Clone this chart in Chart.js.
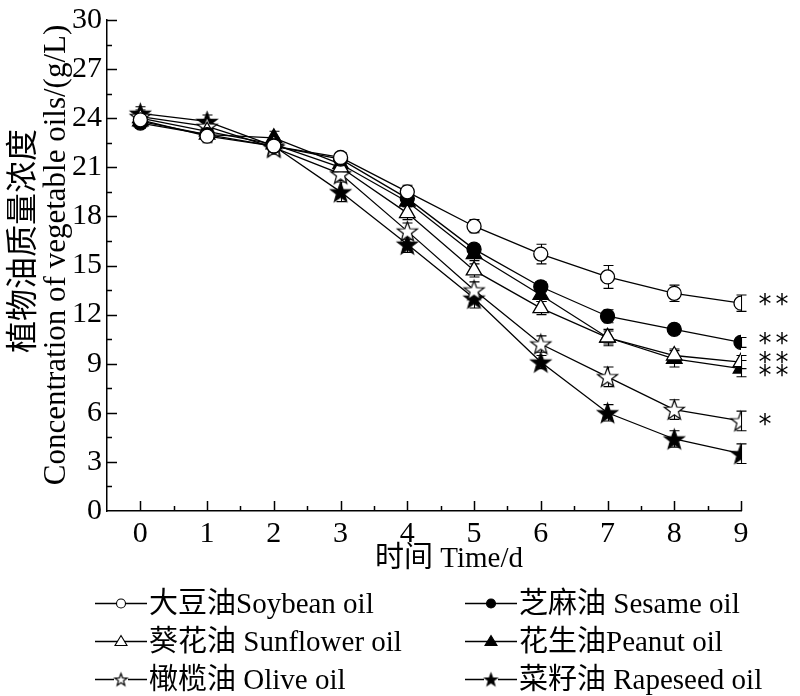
<!DOCTYPE html>
<html>
<head>
<meta charset="utf-8">
<script src="https://cdn.jsdelivr.net/npm/chart.js@4.4.1/dist/chart.umd.min.js"></script>
<style>
  body { margin: 0; background: #fff; }
  #wrap { position: relative; width: 800px; height: 696px; overflow: hidden; }
  #chart { position: absolute; left: 0; top: 0; }
  .txt { position: absolute; font-family: "Liberation Serif", "Noto Sans CJK SC", serif; color: #000; white-space: nowrap; }
  .ytitle { width: 560px; height: 36px; line-height: 36px; text-align: center; transform: rotate(-90deg); }
  .leg { font-size: 29px; height: 34px; line-height: 34px; display: flex; align-items: center; }
  .leg canvas { margin-right: 2px; }
</style>
</head>
<body>
<div id="wrap">
  <canvas id="chart" width="800" height="696"></canvas>
  <div class="txt ytitle" style="left:-258px; top:223px; font-size:32px;">植物油质量浓度</div>
  <div class="txt ytitle" style="left:-225px; top:237px; font-size:31px;">Concentration of vegetable oils/(g/L)</div>
  <div class="txt" id="xtitle" style="left:375px; top:539px; font-size:29px; line-height:36px;">时间 Time/d</div>
  <div id="legend"></div>
</div>
<script>
const $ = id => document.getElementById(id);

// Data
const days = [0, 1, 2, 3, 4, 5, 6, 7, 8, 9];
const soybean   = [23.9, 22.9, 22.3, 21.6, 19.5, 17.4, 15.7, 14.3, 13.3, 12.7];
const sesame    = [23.7, 23.0, 22.3, 21.5, 19.1, 16.0, 13.7, 11.9, 11.1, 10.3];
const sunflower = [24.0, 23.2, 22.4, 21.0, 18.2, 14.7, 12.4, 10.6, 9.5, 9.1];
const peanut    = [23.8, 23.0, 22.8, 21.2, 18.9, 15.7, 13.2, 10.6, 9.3, 8.7];
const olive     = [24.1, 23.5, 22.2, 20.6, 17.1, 13.5, 10.2, 8.2, 6.2, 5.5];
const rapeseed  = [24.3, 23.8, 22.3, 19.5, 16.3, 13.0, 9.1, 6.0, 4.4, 3.5];

const soybeanErr   = [0.4, 0.4, 0.3, 0.3, 0.4, 0.4, 0.6, 0.7, 0.5, 0.5];
const sesameErr    = [0.3, 0.3, 0.3, 0.3, 0.3, 0.3, 0.3, 0.4, 0.3, 0.3];
const sunflowerErr = [0.4, 0.4, 0.4, 0.4, 0.4, 0.4, 0.4, 0.4, 0.4, 0.4];
const peanutErr    = [0.4, 0.4, 0.4, 0.3, 0.3, 0.4, 0.4, 0.5, 0.5, 0.5];
const oliveErr     = [0.4, 0.4, 0.4, 0.4, 0.5, 0.5, 0.5, 0.6, 0.6, 0.6];
const rapeseedErr  = [0.4, 0.4, 0.4, 0.6, 0.5, 0.6, 0.4, 0.5, 0.5, 0.6];

const seriesNames = ["大豆油Soybean oil", "芝麻油 Sesame oil", "葵花油 Sunflower oil",
                     "花生油Peanut oil", "橄榄油 Olive oil", "菜籽油 Rapeseed oil"];
const sigMarks = ["**", "**", "**", "**", "*", ""];
const xTicks = [0, 1, 2, 3, 4, 5, 6, 7, 8, 9];
const yTicks = [0, 3, 6, 9, 12, 15, 18, 21, 24, 27, 30];

// 5-point star marker drawn on a small canvas
function starCanvas(outer, inner, fill) {
  const c = document.createElement("canvas");
  const s = Math.ceil(outer * 2 + 4);
  c.width = c.height = s;
  const g = c.getContext("2d");
  g.beginPath();
  for (let i = 0; i < 10; i++) {
    const r = i % 2 ? inner : outer;
    const a = -Math.PI / 2 + i * Math.PI / 5;
    const px = s / 2 + r * Math.cos(a), py = s / 2 + 1 + r * Math.sin(a);
    if (i) g.lineTo(px, py); else g.moveTo(px, py);
  }
  g.closePath();
  g.fillStyle = fill;
  g.fill();
  g.lineWidth = 1.2;
  g.strokeStyle = "#000";
  g.stroke();
  return c;
}

// marker style per series: [shape, filled]
const markers = [
  ["circle", false], ["circle", true], ["triangle", false],
  ["triangle", true], ["star", false], ["star", true]
];
const values = [soybean, sesame, sunflower, peanut, olive, rapeseed];
const errors = [soybeanErr, sesameErr, sunflowerErr, peanutErr, oliveErr, rapeseedErr];

const datasets = values.map((vals, i) => {
  const [shape, filled] = markers[i];
  const fill = filled ? "#000" : "#fff";
  let style = shape, radius = shape === "circle" ? 7 : 9;
  if (shape === "star") { style = starCanvas(10.5, 4.3, fill); radius = 10; }
  return {
    label: seriesNames[i],
    data: days.map((d, k) => ({ x: d, y: vals[k] })),
    errors: errors[i],
    sig: sigMarks[i],
    borderColor: "#000",
    borderWidth: 1.3,
    tension: 0,
    pointStyle: style,
    pointRadius: radius,
    pointBackgroundColor: fill,
    pointBorderColor: "#000",
    pointBorderWidth: 1.3
  };
});

// Error bars under the markers
const errorBars = {
  id: "errorBars",
  beforeDatasetsDraw(chart) {
    const { ctx, scales: { x, y } } = chart;
    ctx.save();
    ctx.strokeStyle = "#000";
    ctx.lineWidth = 1.1;
    chart.data.datasets.forEach(ds => {
      ds.data.forEach((p, i) => {
        const e = ds.errors[i];
        const px = Math.round(x.getPixelForValue(p.x)) + 0.5;
        const top = y.getPixelForValue(p.y + e), bot = y.getPixelForValue(p.y - e);
        ctx.beginPath();
        ctx.moveTo(px, top); ctx.lineTo(px, bot);
        ctx.moveTo(px - 5, top); ctx.lineTo(px + 5, top);
        ctx.moveTo(px - 5, bot); ctx.lineTo(px + 5, bot);
        ctx.stroke();
      });
    });
    ctx.restore();
  }
};

// Inward major/minor ticks and significance asterisks
const extras = {
  id: "extras",
  afterDraw(chart) {
    const { ctx, scales: { x, y } } = chart;
    ctx.save();
    ctx.strokeStyle = "#000";
    ctx.lineWidth = 1.5;
    ctx.beginPath();
    for (let v = 0; v <= 9; v += 0.5) {
      const px = Math.round(x.getPixelForValue(v)) + 0.5;
      const len = Number.isInteger(v) ? 10 : 5;
      ctx.moveTo(px, y.bottom); ctx.lineTo(px, y.bottom - len);
    }
    for (let v = 1.5; v <= 30; v += 1.5) {
      const py = Math.round(y.getPixelForValue(v)) + 0.5;
      const len = v % 3 === 0 ? 10 : 5;
      ctx.moveTo(x.left, py); ctx.lineTo(x.left + len, py);
    }
    ctx.stroke();

    const nudge = [-4, -4, -5, 2, -2, 0];
    ctx.fillStyle = "#000";
    ctx.font = '26px "DejaVu Sans"';
    ctx.textAlign = "center";
    ctx.textBaseline = "middle";
    chart.data.datasets.forEach((ds, i) => {
      const last = ds.data[ds.data.length - 1];
      const px = x.getPixelForValue(last.x) + 24;
      const py = y.getPixelForValue(last.y) + nudge[i] + 7;
      [...ds.sig].forEach((ch, k) => ctx.fillText(ch, px + k * 17, py));
    });
    ctx.restore();
  }
};

const tickFont = { family: "Liberation Serif", size: 30, lineHeight: 1 };

new Chart($("chart"), {
  type: "line",
  data: { datasets },
  options: {
    responsive: false,
    animation: false,
    events: [],
    layout: { padding: { top: 17, right: 59, bottom: 145, left: 0 } },
    plugins: { legend: { display: false }, tooltip: { enabled: false } },
    scales: {
      x: {
        type: "linear",
        min: -0.5,
        max: 9,
        afterBuildTicks: s => { s.ticks = xTicks.map(v => ({ value: v })); },
        afterFit: s => { s.height = 40; },
        grid: { display: false, drawTicks: false },
        border: { display: true, color: "#000", width: 1.5 },
        ticks: { color: "#000", font: tickFont, padding: 8, maxRotation: 0, autoSkip: false }
      },
      y: {
        min: 0,
        max: 30,
        afterBuildTicks: s => { s.ticks = yTicks.map(v => ({ value: v })); },
        afterFit: s => { s.width = 107; },
        grid: { display: false, drawTicks: false },
        border: { display: true, color: "#000", width: 1.5 },
        ticks: { color: "#000", font: tickFont, padding: 5, autoSkip: false }
      }
    }
  },
  plugins: [errorBars, extras]
});

// HTML legend in two columns
function legendSymbol(shape, filled) {
  const c = document.createElement("canvas");
  c.width = 52; c.height = 24;
  const g = c.getContext("2d");
  g.strokeStyle = "#000";
  g.lineWidth = 1.4;
  g.beginPath(); g.moveTo(0, 12.5); g.lineTo(52, 12.5); g.stroke();
  g.fillStyle = filled ? "#000" : "#fff";
  g.lineWidth = 1.1;
  if (shape === "circle") {
    g.beginPath(); g.arc(26, 12.5, 4.5, 0, Math.PI * 2); g.fill(); g.stroke();
  } else if (shape === "triangle") {
    g.beginPath(); g.moveTo(26, 6.5); g.lineTo(32, 16.5); g.lineTo(20, 16.5); g.closePath(); g.fill(); g.stroke();
  } else {
    const s = starCanvas(6.5, 2.7, filled ? "#000" : "#fff");
    g.fillStyle = "#fff";
    g.fillRect(19, 5, 14, 14);
    g.drawImage(s, 26 - s.width / 2, 12 - s.height / 2);
  }
  return c;
}

const legendCols = [95, 465];
const legendRows = [586, 624, 662];
const legend = $("legend");
seriesNames.forEach((name, i) => {
  const row = document.createElement("div");
  row.className = "txt leg";
  row.style.left = legendCols[i % 2] + "px";
  row.style.top = legendRows[Math.floor(i / 2)] + "px";
  row.appendChild(legendSymbol(markers[i][0], markers[i][1]));
  const span = document.createElement("span");
  span.textContent = name;
  row.appendChild(span);
  legend.appendChild(row);
});
</script>
</body>
</html>
